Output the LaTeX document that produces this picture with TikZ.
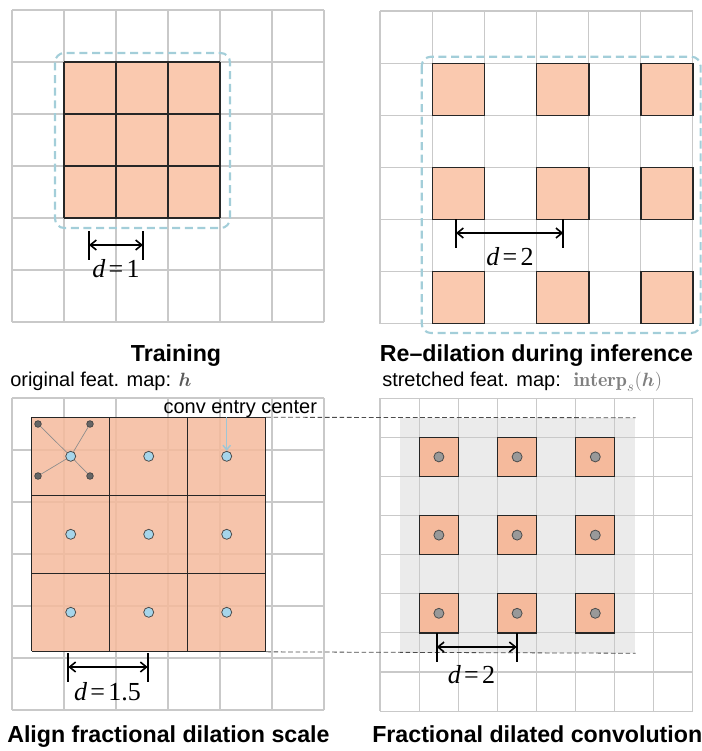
\documentclass[tikz,border=0pt]{standalone}
\usepackage{amsmath,amssymb}
\usepackage{fontspec}
\setsansfont{Liberation Sans}
\newfontfamily\dimfont{Liberation Serif}
\usepackage{tikz}
\usetikzlibrary{arrows.meta}

\definecolor{peach}{HTML}{FAC9AF}
\definecolor{peachdeep}{HTML}{F5BA9C}
\definecolor{gridgray}{HTML}{C9C9C9}
\definecolor{boxblue}{HTML}{A3CED9}
\definecolor{dotblue}{HTML}{A6D5EA}
\definecolor{stretchgray}{HTML}{EBEBEB}
\definecolor{pointblue}{HTML}{9EC6D6}

\begin{document}
\begin{tikzpicture}[
		x=0.75pt, y=-0.75pt,
		gridline/.style={draw=gridgray, line width=0.8pt},
		cellline/.style={draw=black!85, line width=1pt},
		kernelbox/.style={draw=boxblue, line width=1.6pt, dash pattern=on 6pt off 3.5pt, rounded corners=7pt},
		dimtick/.style={line width=1.3pt},
		dimarrow/.style={{Straight Barb[length=1.6mm,width=2.6mm]}-{Straight Barb[length=1.6mm,width=2.6mm]}, line width=1.2pt},
		dimlabel/.style={font=\dimfont\fontsize{19.5}{21}\selectfont, inner sep=0pt},
		titletext/.style={font=\sffamily\bfseries\fontsize{17.4}{20}\selectfont, inner sep=0pt},
		subtext/.style={font=\sffamily\fontsize{15}{18}\selectfont, inner sep=0pt},
		bluedot/.style={circle, draw=black!70, fill=dotblue, line width=0.6pt, minimum size=7.5pt, inner sep=0pt},
		graydot/.style={circle, draw=black!70, fill=black!40, line width=0.6pt, minimum size=7.5pt, inner sep=0pt},
		nbdot/.style={circle, draw=black!75, fill=black!60, line width=0.5pt, minimum size=5pt, inner sep=0pt},
		spoke/.style={draw=black!45, line width=0.5pt},
		guide/.style={draw=black!70, line width=0.6pt, dash pattern=on 3.5pt off 2pt},
		pointer/.style={-{Straight Barb[length=1.2mm,width=2mm]}, draw=pointblue, line width=1.1pt}
	]
	\useasboundingbox (0,0) rectangle (702,751);

	% stretched area under the grid
	\node[fill=stretchgray, minimum size=176.25pt, inner sep=0pt, anchor=north west] (stretch) at (400,417.7) {};

	% the four grids
	\foreach \gx/\gy/\gs/\gn in {12/10/52/6, 380/11/52.1/6, 12/398/52/6, 380/398.3/39.1/8}
	\foreach \i in {0,...,\gn} {
		\draw[gridline] (\gx+\gs*\i,\gy) -- (\gx+\gs*\i,\gy+\gs*\gn);
		\draw[gridline] (\gx,\gy+\gs*\i) -- (\gx+\gs*\gn,\gy+\gs*\i);
	}
	% fractional kernel, grid shows through
	\node[fill=peachdeep, fill opacity=0.85, minimum size=175.5pt, inner sep=0pt, anchor=north west] (bigsq) at (31.7,417.3) {};

	% kernels
	\fill[peach] (64,62) rectangle (220,218);
	\foreach \i in {0,...,3} {
		\draw[cellline] (64+52*\i,62) -- (64+52*\i,218);
		\draw[cellline] (64,62+52*\i) -- (220,62+52*\i);
		\draw[cellline] (31.7+78*\i,417.3) -- (31.7+78*\i,651.3);
		\draw[cellline] (31.7,417.3+78*\i) -- (265.7,417.3+78*\i);
	}
	\foreach \r in {0,1,2}
	\foreach \c in {0,1,2} {
		\draw[cellline, fill=peach] (432.7+104.1*\c,63.3+104.1*\r) rectangle ++(52.1,52.1);
		\draw[cellline, fill=peachdeep] (419.3+78.2*\c,437.4+78.2*\r) rectangle ++(39.1,39.1);
	}
	\draw[kernelbox] (55,53) rectangle (230,228);
	\draw[kernelbox] (421.7,56.7) rectangle (700.6,333);

	% entry centers
	\foreach \r in {0,1,2}
	\foreach \c in {0,1,2} {
		\node[bluedot] (e\r\c) at (70.7+78*\c,456.3+78*\r) {};
		\node[graydot] (s\r\c) at (438.9+78.2*\c,456.9+78.2*\r) {};
	}
	\foreach \k/\px/\py in {1/38/424, 2/90/424, 3/38/476, 4/90/476} {
		\node[nbdot] (nb\k) at (\px,\py) {};
		\draw[spoke] (e00) -- (nb\k);
	}

	\draw[guide] (bigsq.north east) -- (stretch.north east);
	\draw[guide] (bigsq.south east) -- (stretch.south east);

	\node[subtext, anchor=base west] (entry) at (163.3,413) {conv entry center};
	\draw[pointer] (entry.south -| e02) -- (e02);

	% dilation markers
	\foreach \nm/\xa/\xb/\yy/\lx/\ly/\lab in {tl/89/143/245/116/269/1, tr/456/563.3/233/510/257/2,
			bl/68.3/147.7/667/107.5/692/1.5, br/436.7/516.7/647/471.5/675/2} {
		\coordinate (\nm-a) at (\xa,\yy);
		\coordinate (\nm-b) at (\xb,\yy);
		\draw[dimtick] (\nm-a) ++(0,-14) -- ++(0,29);
		\draw[dimtick] (\nm-b) ++(0,-14) -- ++(0,29);
		\draw[dimarrow] (\nm-a) -- (\nm-b);
		\node[dimlabel] (\nm-d) at (\lx,\ly) {\textit{d}\kern2.5pt=\kern2.5pt\lab};
	}

	% titles
	\node[titletext, anchor=base] (ttrain) at (176,361) {Training};
	\node[titletext, anchor=base] (tredil) at (536.5,361) {Re--dilation during inference};
	\node[subtext, anchor=base west] (sorig) at (10,386.7) {original feat. map: \textcolor{black!65}{$\boldsymbol{h}$}};
	\node[subtext, anchor=base west] (sstretch) at (382,386.7) {stretched feat. map:\hspace{4pt} \textcolor{black!50}{$\mathbf{interp}_s(\boldsymbol{h})$}};
	\node[titletext, anchor=base west] (talign) at (7,742) {Align fractional dilation scale};
	\node[titletext, anchor=base west] (tfrac) at (372,742) {Fractional dilated convolution};
\end{tikzpicture}
\end{document}
